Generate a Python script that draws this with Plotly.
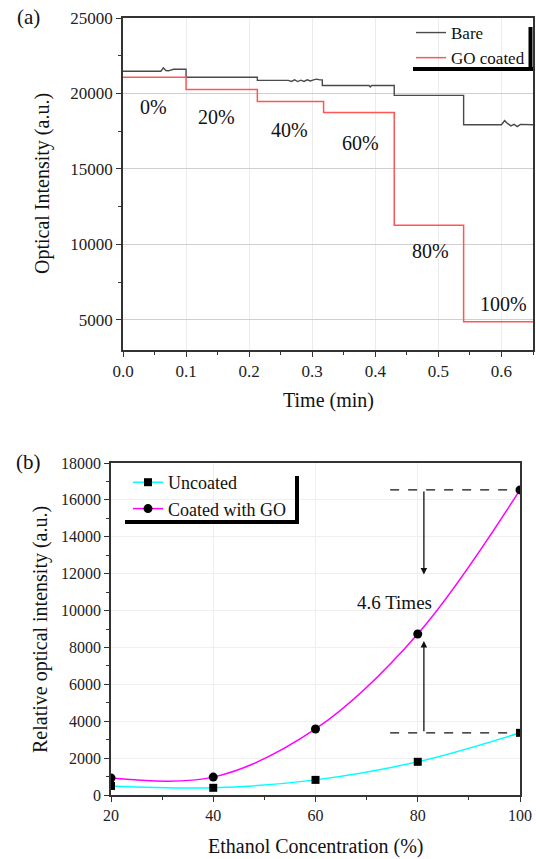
import plotly.graph_objects as go

# ---------------- Data: panel (a) ----------------
bare_t = [0, 0.060, 0.064, 0.068, 0.072, 0.080, 0.100, 0.100, 0.213, 0.213,
          0.262, 0.267, 0.272, 0.277, 0.282, 0.287, 0.292, 0.297, 0.302, 0.307,
          0.312, 0.316, 0.316, 0.390, 0.392, 0.394, 0.430, 0.430, 0.540, 0.540,
          0.600, 0.605, 0.610, 0.615, 0.620, 0.625, 0.630, 0.650]
bare_v = [21470, 21470, 21700, 21520, 21500, 21600, 21600, 21070, 21070, 20870,
          20870, 20800, 20900, 20790, 20880, 20800, 20900, 20830, 20900, 20950,
          20900, 20900, 20530, 20530, 20430, 20530, 20530, 19870, 19870, 17930,
          17930, 18200, 18000, 17850, 17950, 17800, 17950, 17930]

go_t = [0, 0.100, 0.100, 0.213, 0.213, 0.318, 0.318, 0.430, 0.430, 0.540, 0.540, 0.650]
go_v = [21070, 21070, 20270, 20270, 19470, 19470, 18730, 18730, 11270, 11270, 4870, 4870]

pct_labels = ["0%", "20%", "40%", "60%", "80%", "100%"]
pct_x = [0.048, 0.148, 0.264, 0.376, 0.487, 0.603]
pct_y = [19100, 18450, 17550, 16700, 9550, 6050]

# ---------------- Data: panel (b) ----------------
conc = [20, 40, 60, 80, 100]
uncoated = [490, 390, 820, 1800, 3370]
coated = [920, 970, 3580, 8730, 16540]

FONT = "Liberation Serif"
fig = go.Figure()

fig.add_trace(go.Scatter(x=bare_t, y=bare_v, mode="lines", name="Bare",
                         line=dict(color="#4a4a4a", width=1.4),
                         xaxis="x", yaxis="y", legend="legend"))
fig.add_trace(go.Scatter(x=go_t, y=go_v, mode="lines", name="GO coated",
                         line=dict(color="#ff5555", width=1.5),
                         xaxis="x", yaxis="y", legend="legend"))

fig.add_trace(go.Scatter(x=conc, y=uncoated, mode="lines+markers", name="Uncoated",
                         line=dict(color="#00ffff", width=1.5, shape="spline", smoothing=1.0),
                         marker=dict(symbol="square", color="black", size=8),
                         xaxis="x2", yaxis="y2", legend="legend2"))
fig.add_trace(go.Scatter(x=conc, y=coated, mode="lines+markers", name="Coated with GO",
                         line=dict(color="#ff00ff", width=1.5, shape="spline", smoothing=1.0),
                         marker=dict(symbol="circle", color="black", size=9),
                         xaxis="x2", yaxis="y2", legend="legend2"))

W, H = 536, 859
def px(x): return x / W
def py(y): return 1 - y / H

def axis_common(fs):
    return dict(
        showline=True, linecolor="#333", linewidth=1.5, mirror=True,
        ticks="outside", ticklen=5, tickwidth=1.2, tickcolor="#333",
        tickfont=dict(family=FONT, size=fs, color="#222"),
        zeroline=False,
    )

minor_style = dict(ticks="outside", ticklen=3, tickcolor="#333", showgrid=False)

fig.update_layout(
    width=W, height=H,
    margin=dict(l=0, r=0, t=0, b=0, autoexpand=False),
    paper_bgcolor="white", plot_bgcolor="white",
    font=dict(family=FONT, color="#111"),
    xaxis=dict(domain=[px(123), px(533)], anchor="y", range=[0, 0.65],
               tickvals=[0, 0.1, 0.2, 0.3, 0.4, 0.5, 0.6],
               ticktext=["0.0", "0.1", "0.2", "0.3", "0.4", "0.5", "0.6"],
               showgrid=True, gridcolor="#ececec", gridwidth=1,
               minor=dict(dtick=0.05, tick0=0, **minor_style),
               **axis_common(17)),
    yaxis=dict(domain=[py(350), py(18)], anchor="x", range=[3000, 25000],
               tickvals=[5000, 10000, 15000, 20000, 25000],
               ticktext=["5000", "10000", "15000", "20000", "25000"],
               showgrid=True, gridcolor="#cfcfcf", gridwidth=1,
               minor=dict(dtick=2500, tick0=0, **minor_style),
               **axis_common(17)),
    xaxis2=dict(domain=[px(111), px(520)], anchor="y2", range=[20, 100],
                tickvals=[20, 40, 60, 80, 100],
                showgrid=True, gridcolor="#efefef", gridwidth=1,
                minor=dict(dtick=10, tick0=0, **minor_style),
                **axis_common(16)),
    yaxis2=dict(domain=[py(795), py(463)], anchor="x2", range=[0, 18000],
                tickvals=list(range(0, 18001, 2000)),
                ticktext=[str(v) for v in range(0, 18001, 2000)],
                showgrid=True, gridcolor="#efefef", gridwidth=1,
                minor=dict(dtick=1000, tick0=0, **minor_style),
                **axis_common(16)),
    legend=dict(x=px(411), y=py(15), xanchor="left", yanchor="top",
                bgcolor="rgba(255,255,255,0)", borderwidth=0,
                font=dict(family=FONT, size=17, color="#111"),
                tracegroupgap=0, itemwidth=30),
    legend2=dict(x=px(128), y=py(464), xanchor="left", yanchor="top",
                 bgcolor="rgba(255,255,255,0)", borderwidth=0,
                 font=dict(family=FONT, size=18, color="#111"),
                 tracegroupgap=0, itemwidth=30),
    showlegend=True,
)

def ann(x, y, text, size, angle=0):
    return dict(x=px(x), y=py(y), xref="paper", yref="paper", text=text, showarrow=False,
                xanchor="center", yanchor="middle", textangle=angle,
                font=dict(family=FONT, size=size, color="#111"))

annotations = []
for t, xv, yv in zip(pct_labels, pct_x, pct_y):
    annotations.append(dict(x=xv, y=yv, xref="x", yref="y", text=t, showarrow=False,
                            xanchor="center", yanchor="middle",
                            font=dict(family=FONT, size=20, color="#111")))
annotations += [
    ann(28, 17, "(a)", 21),
    ann(29, 462, "(b)", 21),
    ann(42, 184, "Optical Intensity (a.u.)", 20, -90),
    ann(328, 400, "Time (min)", 20),
    ann(40, 630, "Relative optical intensity (a.u.)", 20, -90),
    ann(316, 846, "Ethanol Concentration (%)", 20),
    dict(x=75.5, y=10450, xref="x2", yref="y2", text="4.6 Times", showarrow=False,
         xanchor="center", yanchor="middle",
         font=dict(family=FONT, size=19, color="#111")),
    dict(x=81.2, y=11950, ax=81.2, ay=coated[-1], xref="x2", yref="y2", axref="x2", ayref="y2",
         text="", showarrow=True, arrowhead=2, arrowsize=1, arrowwidth=1.3, arrowcolor="#111"),
    dict(x=81.2, y=8350, ax=81.2, ay=uncoated[-1], xref="x2", yref="y2", axref="x2", ayref="y2",
         text="", showarrow=True, arrowhead=2, arrowsize=1, arrowwidth=1.3, arrowcolor="#111"),
]
fig.update_layout(annotations=annotations)

shapes = [
    dict(type="line", xref="x2", yref="y2", x0=74.6, x1=100, y0=coated[-1], y1=coated[-1],
         line=dict(color="#111", width=1.3, dash="dash")),
    dict(type="line", xref="x2", yref="y2", x0=74.6, x1=100, y0=uncoated[-1], y1=uncoated[-1],
         line=dict(color="#111", width=1.3, dash="dash")),
    dict(type="line", xref="paper", yref="paper", x0=px(413), x1=px(533), y0=py(69), y1=py(69),
         line=dict(color="black", width=4)),
    dict(type="line", xref="paper", yref="paper", x0=px(530.5), x1=px(530.5), y0=py(27), y1=py(69),
         line=dict(color="black", width=4)),
    dict(type="line", xref="paper", yref="paper", x0=px(125), x1=px(299), y0=py(522), y1=py(522),
         line=dict(color="black", width=4)),
    dict(type="line", xref="paper", yref="paper", x0=px(297), x1=px(297), y0=py(476), y1=py(522),
         line=dict(color="black", width=4)),
]
fig.update_layout(shapes=shapes)

fig.write_html("out.html", config={"displayModeBar": False},
               post_script="document.body.style.margin='0px';document.body.style.padding='0px';")
